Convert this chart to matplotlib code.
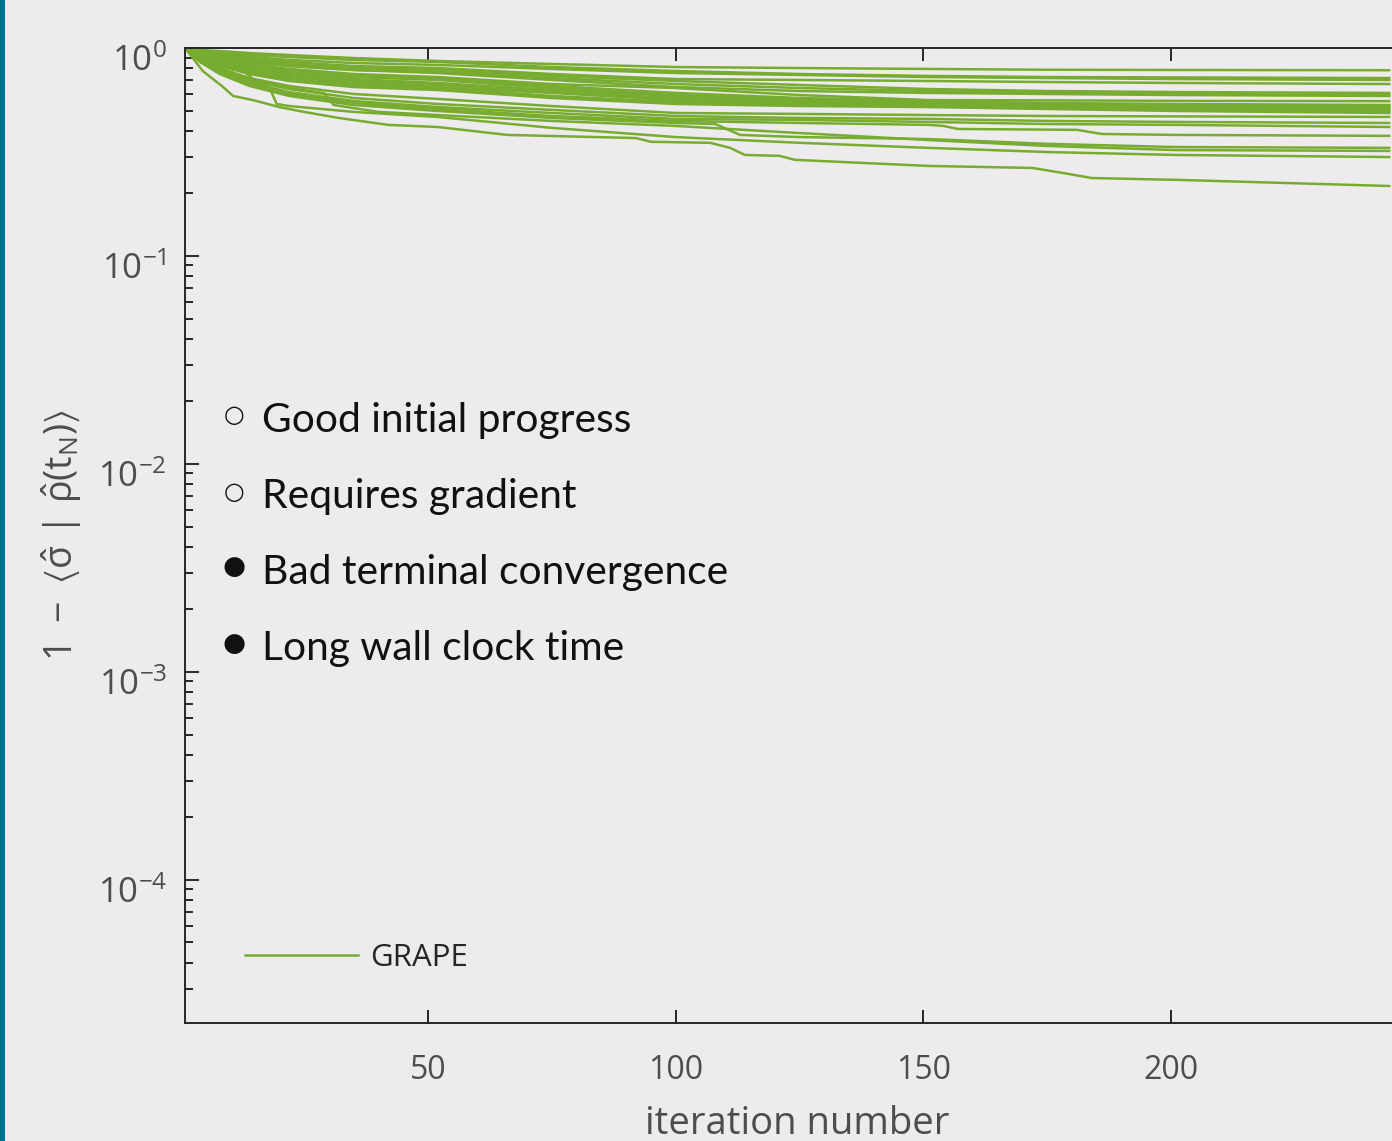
import matplotlib
matplotlib.use('Agg')
import matplotlib.pyplot as plt
from matplotlib.patches import Rectangle
from matplotlib.transforms import ScaledTranslation
from matplotlib.ticker import FixedLocator, FixedFormatter, LogLocator, NullLocator, NullFormatter

plt.rcParams['mathtext.fontset'] = 'custom'
plt.rcParams['mathtext.rm'] = 'Open Sans'
plt.rcParams['mathtext.it'] = 'Open Sans:italic'
plt.rcParams['mathtext.bf'] = 'Open Sans:bold'
plt.rcParams['mathtext.sf'] = 'Open Sans'
plt.rcParams['mathtext.fallback'] = 'stixsans'
plt.rcParams['mathtext.default'] = 'regular'
plt.rcParams['font.family'] = ['Open Sans', 'DejaVu Sans']

# ---------------- data ----------------
iters = [1, 4, 8, 14, 22, 35, 52, 75, 100, 125, 151, 175, 201, 244]

run_u1 = [1.0, 0.978, 0.967, 0.946, 0.925, 0.895, 0.866, 0.838, 0.810, 0.801, 0.793, 0.786, 0.784, 0.782]
run_u2 = [1.0, 0.967, 0.946, 0.925, 0.905, 0.876, 0.857, 0.810, 0.775, 0.750, 0.734, 0.725, 0.722, 0.717]
run_u3 = [1.0, 0.967, 0.936, 0.905, 0.876, 0.847, 0.829, 0.793, 0.758, 0.742, 0.725, 0.717, 0.709, 0.702]
run_u4 = [1.0, 0.957, 0.925, 0.885, 0.857, 0.819, 0.801, 0.750, 0.709, 0.702, 0.694, 0.686, 0.679, 0.671]
run_u5 = [1.0, 0.957, 0.915, 0.876, 0.838, 0.801, 0.784, 0.734, 0.694, 0.664, 0.635, 0.621, 0.614, 0.608]
run_u6 = [1.0, 0.946, 0.905, 0.857, 0.819, 0.784, 0.767, 0.717, 0.671, 0.642, 0.621, 0.608, 0.601, 0.594]
run_u7 = [1.0, 0.957, 0.905, 0.857, 0.819, 0.784, 0.758, 0.702, 0.649, 0.621, 0.608, 0.601, 0.594, 0.588]
run_u8 = [1.0, 0.936, 0.885, 0.838, 0.793, 0.750, 0.725, 0.671, 0.642, 0.594, 0.562, 0.560, 0.557, 0.555]
run_u9 = [1.0, 0.936, 0.876, 0.829, 0.784, 0.742, 0.717, 0.657, 0.608, 0.575, 0.556, 0.544, 0.538, 0.532]
run_u10 = [1.0, 0.925, 0.866, 0.810, 0.767, 0.725, 0.702, 0.642, 0.594, 0.569, 0.550, 0.538, 0.532, 0.526]
run_u11 = [1.0, 0.915, 0.857, 0.801, 0.750, 0.709, 0.679, 0.628, 0.588, 0.562, 0.550, 0.538, 0.532, 0.520]
run_u12 = [1.0, 0.925, 0.857, 0.793, 0.742, 0.694, 0.664, 0.614, 0.575, 0.556, 0.544, 0.532, 0.526, 0.515]
run_u13 = [1.0, 0.905, 0.838, 0.775, 0.725, 0.679, 0.649, 0.608, 0.562, 0.550, 0.538, 0.526, 0.515, 0.504]
run_u14 = [1.0, 0.915, 0.838, 0.767, 0.709, 0.664, 0.642, 0.588, 0.550, 0.538, 0.532, 0.520, 0.509, 0.498]
run_u15 = [1.0, 0.905, 0.829, 0.758, 0.702, 0.657, 0.635, 0.581, 0.544, 0.532, 0.526, 0.515, 0.504, 0.493]
run_u16 = [1.0, 0.895, 0.819, 0.750, 0.694, 0.649, 0.628, 0.575, 0.538, 0.526, 0.520, 0.509, 0.498, 0.487]
run_a = [1.0, 0.895, 0.801, 0.717, 0.657, 0.601, 0.569, 0.526, 0.487, 0.482, 0.476, 0.471, 0.469, 0.466]
run_b = [1.0, 0.885, 0.784, 0.702, 0.635, 0.575, 0.538, 0.504, 0.471, 0.461, 0.456, 0.446, 0.441, 0.436]
run_c = [1.0, 0.876, 0.775, 0.686, 0.614, 0.556, 0.520, 0.487, 0.456, 0.451, 0.441, 0.431, 0.427, 0.417]

iters_d = [1, 4, 8, 14, 22, 35, 52, 75, 100, 125, 151, 154, 157, 181, 186, 201, 244]
run_d = [1.0, 0.866, 0.758, 0.671, 0.601, 0.544, 0.509, 0.471, 0.446, 0.436, 0.427, 0.422, 0.408, 0.404, 0.386, 0.382, 0.378]

iters_e = [1, 4, 8, 14, 22, 35, 52, 75, 100, 108, 113, 125, 151, 175, 201, 244]
run_e = [1.0, 0.857, 0.750, 0.657, 0.588, 0.532, 0.498, 0.461, 0.436, 0.431, 0.382, 0.373, 0.365, 0.346, 0.334, 0.331]

iters_f = [1, 4, 8, 13, 15, 22, 29, 31, 40, 52, 75, 100, 125, 151, 175, 201, 244]
run_f = [1.0, 0.915, 0.838, 0.767, 0.702, 0.642, 0.608, 0.532, 0.493, 0.476, 0.446, 0.422, 0.390, 0.361, 0.338, 0.323, 0.320]

iters_g = [1, 4, 8, 14, 18, 19.5, 22, 35, 52, 75, 100, 125, 151, 175, 201, 244]
run_g = [1.0, 0.895, 0.784, 0.702, 0.649, 0.538, 0.526, 0.493, 0.466, 0.413, 0.373, 0.350, 0.331, 0.316, 0.306, 0.299]

iters_h = [1, 4.6, 8.7, 10.7, 14.7, 20, 25, 32, 42, 52, 66, 92, 95, 107, 111, 114, 121, 124, 151, 172, 178, 184, 202, 244]
run_h = [1.0, 0.775, 0.649, 0.588, 0.562, 0.520, 0.493, 0.461, 0.427, 0.417, 0.382, 0.369, 0.354, 0.350, 0.331,
         0.306, 0.303, 0.290, 0.271, 0.265, 0.251, 0.237, 0.232, 0.217]

x_ticks = [50, 100, 150, 200, 250]
x_tick_labels = ['50', '100', '150', '200', '250']
y_ticks = [1e-4, 1e-3, 1e-2, 1e-1, 1e0]
y_tick_labels = [r'$10^{-4}$', r'$10^{-3}$', r'$10^{-2}$', r'$10^{-1}$', r'$10^{0}$']

notes = [('open', 'Good initial progress'),
         ('open', 'Requires gradient'),
         ('filled', 'Bad terminal convergence'),
         ('filled', 'Long wall clock time')]

# ---------------- styling ----------------
BG = '#EEEBEE'
GREEN = '#77AC30'
AXC = '#262626'
LABC = '#4D4D4D'
W, H = 1392, 1141

fig = plt.figure(figsize=(W / 100, H / 100), dpi=100, facecolor=BG)
fig.patches.append(Rectangle((0, 0), 5 / W, 1, transform=fig.transFigure,
                             facecolor='#006F8E', edgecolor='none', zorder=10))

ax = fig.add_axes([185 / W, 1 - 1023 / H, (1409 - 185) / W, (1023 - 48) / H])
ax.set_facecolor(BG)

groups = [
    (iters, run_u1), (iters, run_u2), (iters, run_u3), (iters, run_u4), (iters, run_u5),
    (iters, run_u6), (iters, run_u7), (iters, run_u8), (iters, run_u9), (iters, run_u10),
    (iters, run_u11), (iters, run_u12), (iters, run_u13), (iters, run_u14), (iters, run_u15),
    (iters, run_u16), (iters, run_a), (iters, run_b), (iters, run_c),
    (iters_d, run_d), (iters_e, run_e), (iters_f, run_f), (iters_g, run_g), (iters_h, run_h),
]
for i, (xs, ys) in enumerate(groups):
    ax.plot(xs, ys, color=GREEN, lw=1.8, label='GRAPE' if i == 0 else None,
            solid_joinstyle='round')

ax.set_yscale('log')
ax.set_xlim(1, 248)
ax.set_ylim(2.05e-5, 1.0)

for s in ['left', 'bottom', 'top']:
    ax.spines[s].set_color(AXC)
    ax.spines[s].set_linewidth(1.4)
ax.spines['right'].set_visible(False)

ax.xaxis.set_major_locator(FixedLocator(x_ticks))
ax.xaxis.set_major_formatter(FixedFormatter(x_tick_labels))
ax.xaxis.set_minor_locator(NullLocator())
ax.yaxis.set_major_locator(FixedLocator(y_ticks))
ax.yaxis.set_major_formatter(FixedFormatter(y_tick_labels))
ax.yaxis.set_minor_locator(LogLocator(base=10, subs=[2, 3, 4, 5, 6, 7, 8, 9], numticks=20))
ax.yaxis.set_minor_formatter(NullFormatter())

ax.tick_params(axis='x', which='major', direction='in', length=9.5, width=1.4, color=AXC,
               top=True, bottom=True, labeltop=False, labelsize=23, labelcolor=LABC, pad=22)
ax.tick_params(axis='y', which='major', direction='in', length=10, width=1.4, color=AXC,
               left=True, right=False, labelsize=25, labelcolor=LABC, pad=13)
ax.tick_params(axis='y', which='minor', direction='in', length=5.5, width=1.4, color=AXC,
               left=True, right=False)

for lab in ax.get_yticklabels():
    lab.set_transform(lab.get_transform() + ScaledTranslation(0, -0.10, fig.dpi_scale_trans))

ax.set_xlabel('iteration number', fontsize=27.5, color=LABC, labelpad=13)
ax.set_ylabel(r'$1\ -\ \left\langle \hat{\sigma}\ |\ \hat{\rho}(t_N)\right\rangle$',
              fontsize=27, color=LABC)
ax.yaxis.set_label_coords((84 - 185) / 1224, 0.5)

leg = ax.legend(loc='center left', bbox_to_anchor=(245 / W, 1 - 958 / H),
                bbox_transform=fig.transFigure, frameon=False, fontsize=22.5,
                handlelength=3.6, handletextpad=0.42, borderpad=0, borderaxespad=0)
for t in leg.get_texts():
    t.set_color(AXC)

baselines = [432, 508, 584, 660]
for (kind, txt), yb in zip(notes, baselines):
    fig.text(262 / W, 1 - yb / H, txt, fontsize=29.3, color='#111111',
             family=['Lato', 'DejaVu Sans'], va='baseline', ha='left')
    sym = '\u25CB' if kind == 'open' else '\u25CF'
    fs = 17 if kind == 'open' else 19
    fig.text(234 / W, 1 - (yb - 9.5) / H, sym, fontsize=fs, color='#111111',
             family=['DejaVu Sans'], va='baseline', ha='center')

fig.savefig('out.png', dpi=100, facecolor=BG)
